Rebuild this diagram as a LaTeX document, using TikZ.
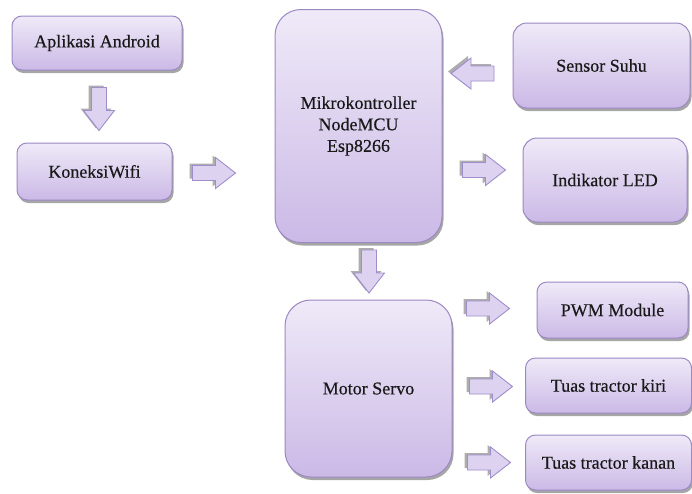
\documentclass[tikz,border=0pt]{standalone}
\usepackage{fontspec}
\setmainfont{Liberation Serif}
\newfontfamily\boxfont[FakeBold=0.4]{Liberation Serif}
\usetikzlibrary{shadows}
\definecolor{boxtop}{HTML}{EFEAF8}
\definecolor{boxbot}{HTML}{CBB9E6}
\definecolor{boxline}{HTML}{9C88C4}
\definecolor{arrfill}{HTML}{DDD3F1}
\definecolor{arrline}{HTML}{A08DCB}
\definecolor{arrshadow}{HTML}{8C8C8C}
\tikzset{
  box/.style={draw=boxline, line width=1pt, top color=boxtop, bottom color=boxbot,
    drop shadow={shadow xshift=1.5pt, shadow yshift=-3pt, fill=black, opacity=0.35},
    align=center, inner sep=2pt,
    font=\boxfont\fontsize{18}{21.5}\selectfont, text=black!90},
  arrbody/.style={draw=arrline, line width=0.9pt, fill=arrfill, line join=miter},
  arrshade/.style={fill=arrshadow, opacity=0.7}
}
\newcommand\blockarrow[3]{%
  \fill[arrshade, shift={(#1-3,#2-2)}, rotate=#3]
    (-21.5,-7.5) -- (1.5,-7.5) -- (1.5,-15.5) -- (21.5,0) -- (1.5,15.5) -- (1.5,7.5) -- (-21.5,7.5) -- cycle;
  \draw[arrbody, shift={(#1,#2)}, rotate=#3]
    (-21.5,-7.5) -- (1.5,-7.5) -- (1.5,-15.5) -- (21.5,0) -- (1.5,15.5) -- (1.5,7.5) -- (-21.5,7.5) -- cycle;
}
\begin{document}
\begin{tikzpicture}[x=1pt,y=-1pt]
\fill[white] (0,0) rectangle (692,493);
\useasboundingbox (0,0) rectangle (692,493);

\node[box, minimum width=170pt, minimum height=54pt, rounded corners=10pt] (app) at (97,43) {Aplikasi Android};
\node[box, minimum width=155pt, minimum height=57pt, rounded corners=10pt] (wifi) at (94.5,171.5) {KoneksiWifi};
\node[box, minimum width=167pt, minimum height=233pt, rounded corners=26pt] (mcu) at (358.5,126) {Mikrokontroller\\NodeMCU\\Esp8266};
\node[box, minimum width=177pt, minimum height=85pt, rounded corners=14pt] (sensor) at (601.5,65.5) {Sensor Suhu};
\node[box, minimum width=164pt, minimum height=84pt, rounded corners=14pt] (led) at (605,180) {Indikator LED};
\node[box, minimum width=167pt, minimum height=177pt, rounded corners=26pt] (servo) at (368.5,388.5) {Motor Servo};
\node[box, minimum width=151pt, minimum height=56pt, rounded corners=10pt] (pwm) at (612.5,310) {PWM Module};
\node[box, minimum width=166pt, minimum height=55pt, rounded corners=10pt] (kiri) at (608.5,385.5) {Tuas tractor kiri};
\node[box, minimum width=166pt, minimum height=55pt, rounded corners=10pt] (kanan) at (608.5,462.5) {Tuas tractor kanan};

\blockarrow{99}{109}{-90}
\blockarrow{214}{173}{0}
\blockarrow{472.5}{73.5}{180}
\blockarrow{484}{170}{0}
\blockarrow{369}{271.5}{-90}
\blockarrow{488}{308.5}{0}
\blockarrow{491}{386.5}{0}
\blockarrow{489}{462.5}{0}
\end{tikzpicture}
\end{document}
